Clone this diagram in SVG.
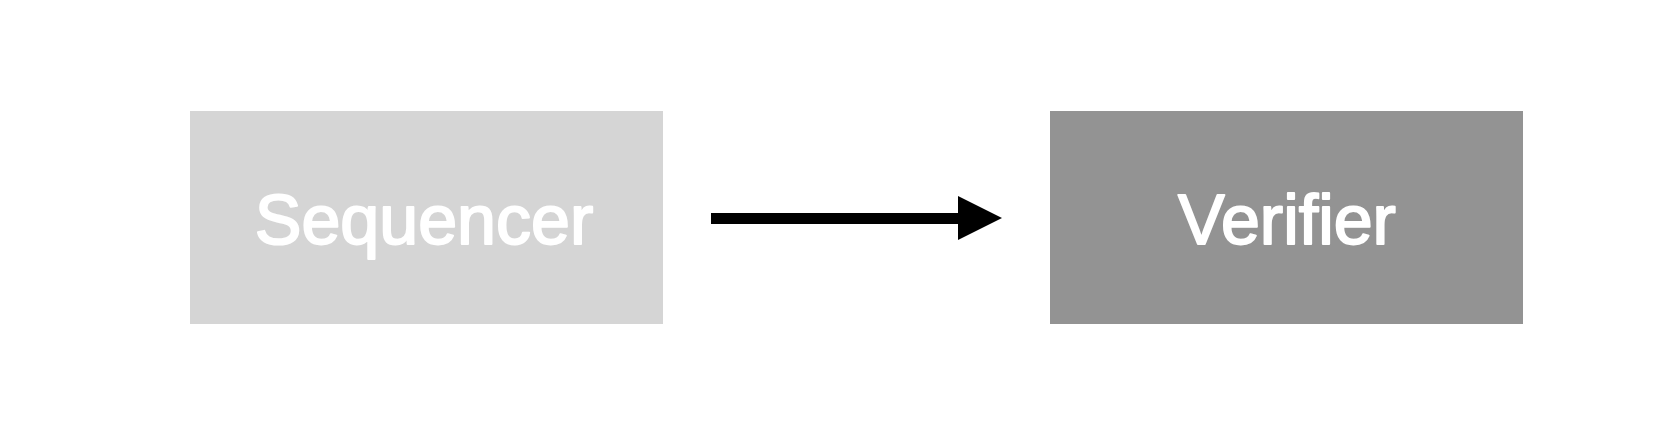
<svg xmlns="http://www.w3.org/2000/svg" width="1656" height="436" viewBox="0 0 1656 436">
  <style>
    .label { font-family: "Liberation Sans", Arial, sans-serif; font-size: 70px; fill: #ffffff; stroke: #ffffff; stroke-width: 2; stroke-linejoin: round; text-anchor: middle; }
  </style>
  <rect width="1656" height="436" fill="#ffffff"/>
  <g id="node-sequencer">
    <rect x="190" y="111" width="473" height="213" fill="#d5d5d5"/>
    <text class="label" x="424" y="244">Sequencer</text>
  </g>
  <g id="node-verifier">
    <rect x="1050" y="111" width="473" height="213" fill="#939393"/>
    <text class="label" x="1287" y="244">Verifier</text>
  </g>
  <g id="connectors">
    <rect x="711" y="213" width="248" height="11" fill="#000000"/>
    <polygon points="958,196 1002,218 958,240" fill="#000000"/>
  </g>
</svg>
